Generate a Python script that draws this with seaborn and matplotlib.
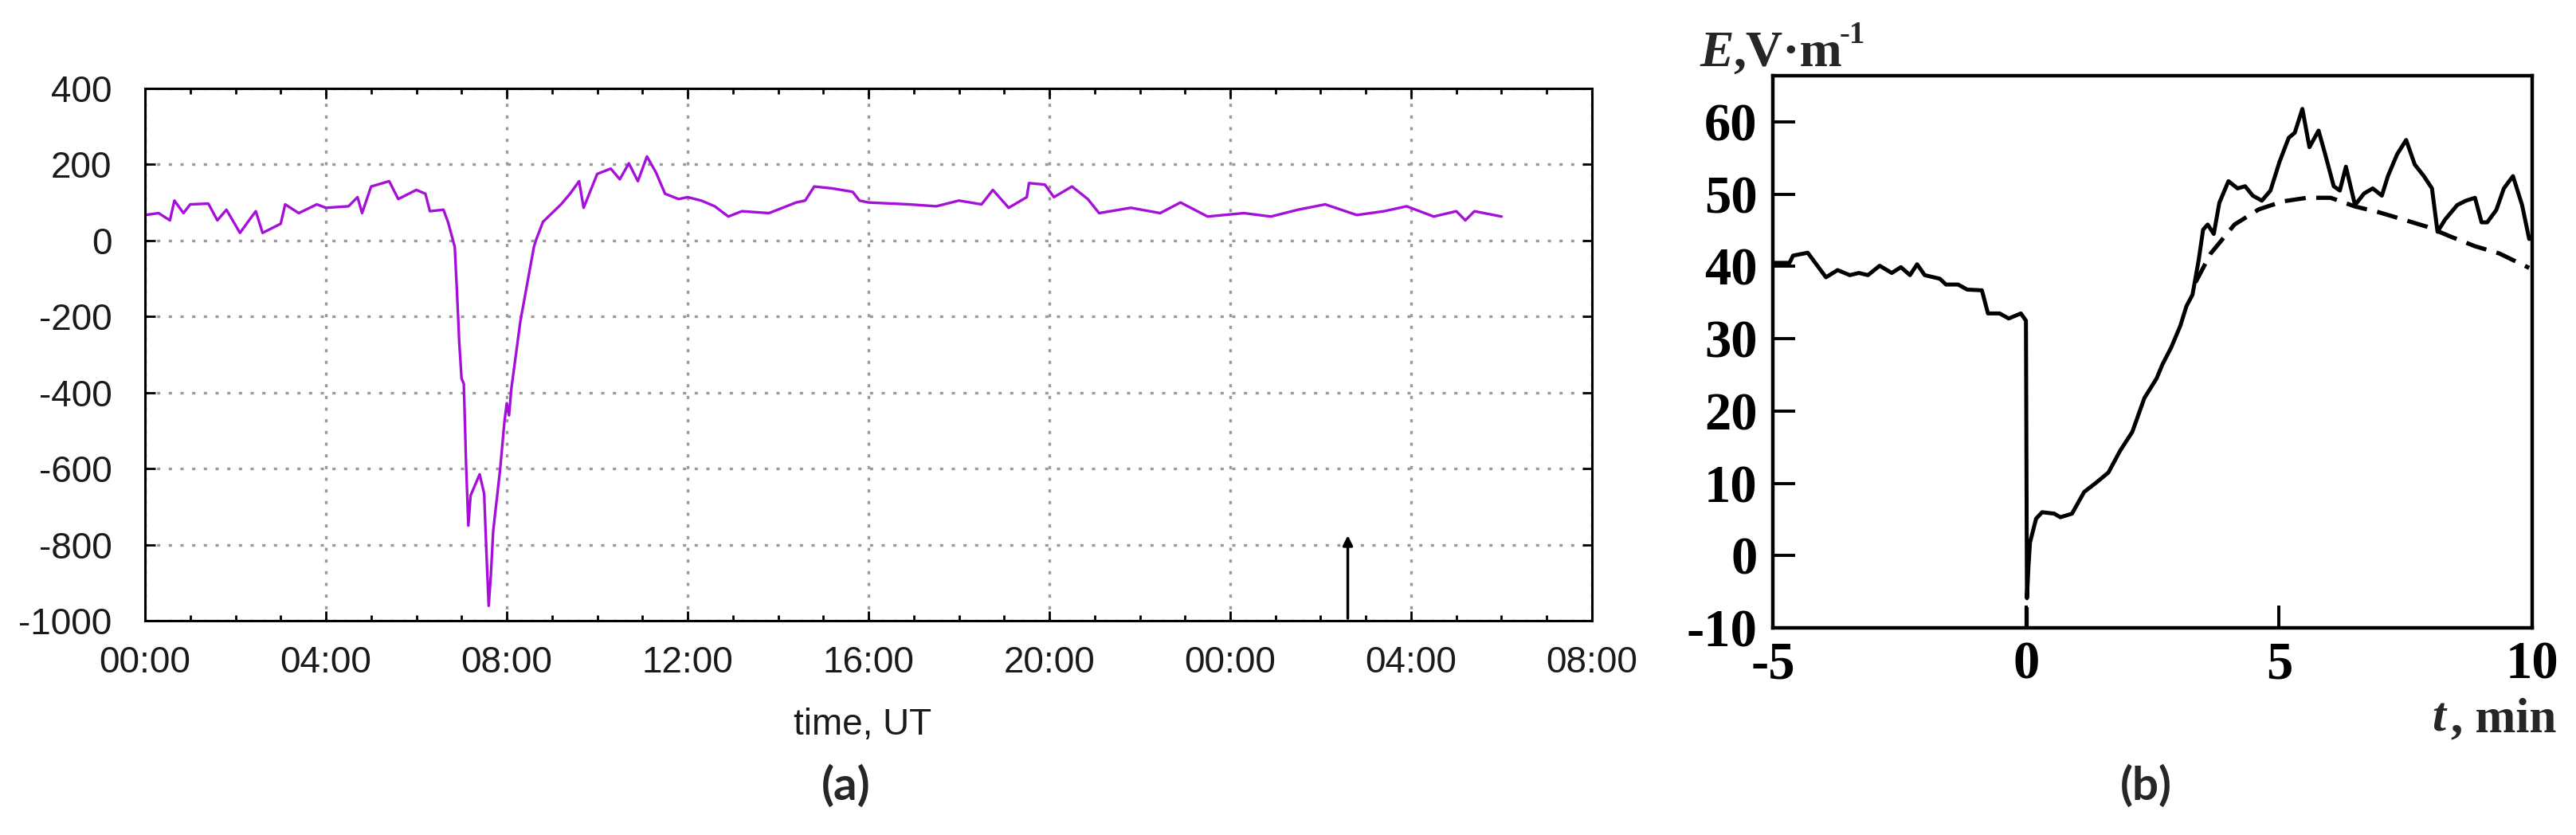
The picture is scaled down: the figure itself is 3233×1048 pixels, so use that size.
import numpy as np
import pandas as pd
import seaborn as sns
import matplotlib.pyplot as plt
from matplotlib.ticker import FixedLocator, MultipleLocator

# panel (a): field over ~30 h, time in hours from 00:00 UT
t_a = [0.0, 0.3, 0.55, 0.65, 0.85, 1.0, 1.4, 1.6, 1.8, 2.1, 2.3, 2.45, 2.6, 3.0, 3.1,
       3.4, 3.8, 4.0, 4.5, 4.7, 4.8, 5.0, 5.4, 5.6, 6.0, 6.2, 6.3, 6.6, 6.7, 6.85,
       6.9, 6.95, 7.0, 7.05, 7.1, 7.15, 7.2, 7.4, 7.5, 7.55, 7.6, 7.65, 7.7, 7.85,
       7.95, 8.0, 8.05, 8.1, 8.3, 8.6, 8.65, 8.8, 9.2, 9.4, 9.6, 9.7, 10.0, 10.3,
       10.5, 10.7, 10.9, 11.1, 11.3, 11.5, 11.8, 12.0, 12.3, 12.6, 12.9, 13.2, 13.8,
       14.4, 14.6, 14.8, 15.2, 15.65, 15.8, 16.0, 16.9, 17.5, 18.0, 18.5, 18.75,
       19.1, 19.5, 19.55, 19.9, 20.1, 20.5, 20.85, 21.1, 21.8, 22.45, 22.9, 23.5,
       24.3, 24.9, 25.5, 26.1, 26.8, 27.4, 27.9, 28.5, 29.0, 29.2, 29.4, 30.0]
e_a = [67, 72, 53, 105, 72, 95, 97, 53, 81, 20, 53, 77, 20, 44, 95,
       72, 95, 86, 90, 114, 72, 142, 156, 109, 133, 123, 77, 81, 49, -17,
       -138, -269, -363, -377, -587, -750, -671, -615, -666, -820, -961, -877, -764, -606,
       -475, -428, -460, -391, -213, -17, 2, 49, 95, 123, 156, 86, 175, 189,
       161, 203, 156, 221, 179, 123, 109, 114, 105, 90, 63, 77, 72,
       100, 105, 142, 137, 128, 105, 100, 95, 90, 105, 95, 133,
       86, 114, 151, 147, 114, 142, 109, 72, 86, 72, 100, 63,
       72, 63, 81, 95, 67, 77, 90, 63, 77, 53, 77, 63]
a_ticks = [0, 4, 8, 12, 16, 20, 24, 28, 32]
a_labels = ["00:00", "04:00", "08:00", "12:00", "16:00", "20:00", "00:00", "04:00", "08:00"]
arrow_t = 26.6
arrow_top = -770

# panel (b): E in V/m, t in min
t_b = [-5.0, -4.67, -4.6, -4.31, -3.95, -3.72, -3.48, -3.3, -3.12, -2.89, -2.65, -2.47,
       -2.29, -2.15, -2.0, -1.7, -1.58, -1.34, -1.16, -0.87, -0.75, -0.52, -0.34, -0.1,
       0.0, 0.02, 0.05, 0.08, 0.2, 0.32, 0.56, 0.68, 0.91, 1.15, 1.39, 1.63, 1.86, 2.1,
       2.34, 2.58, 2.7, 2.87, 3.05, 3.17, 3.29, 3.41, 3.5, 3.59, 3.71, 3.82, 4.0, 4.18,
       4.33, 4.48, 4.66, 4.83, 5.01, 5.19, 5.31, 5.46, 5.6, 5.78, 5.9, 6.08, 6.2, 6.32,
       6.5, 6.68, 6.85, 7.03, 7.15, 7.33, 7.51, 7.68, 7.86, 8.02, 8.13, 8.28, 8.52, 8.69,
       8.87, 9.0, 9.11, 9.29, 9.44, 9.62, 9.8, 9.94]
e_b = [40.5, 40.5, 41.5, 41.9, 38.5, 39.5, 38.8, 39.1, 38.8, 40.1, 39.1, 39.9,
       38.8, 40.3, 38.8, 38.3, 37.5, 37.5, 36.8, 36.7, 33.5, 33.5, 32.8, 33.5,
       32.5, -5.9, -1.5, 1.8, 5.1, 6.0, 5.8, 5.3, 5.8, 8.8, 10.1, 11.5, 14.5, 17.1,
       21.8, 24.5, 26.5, 28.8, 31.8, 34.5, 36.1, 40.8, 45.1, 45.8, 44.5, 48.8, 51.8, 50.8,
       51.1, 49.8, 49.1, 50.5, 54.5, 57.8, 58.5, 61.8, 56.5, 58.8, 55.8, 51.1, 50.5, 53.8,
       48.5, 50.1, 50.8, 49.8, 52.5, 55.5, 57.5, 54.1, 52.5, 50.8, 44.8, 46.5, 48.5, 49.1,
       49.5, 46.1, 46.1, 47.8, 50.8, 52.5, 48.5, 43.8]
t_fit = [3.35, 3.65, 4.12, 4.6, 5.07, 5.55, 6.02, 6.5, 6.97, 7.45, 7.92, 8.4, 8.87, 9.35, 9.94]
e_fit = [37.8, 41.8, 45.8, 47.9, 49.0, 49.5, 49.5, 48.3, 47.5, 46.5, 45.5, 44.1, 42.8, 41.8, 39.8]
t_drop = [0.0, 0.0]
e_drop = [-10, -6]

sns.set_style("ticks")
plt.rcParams['font.family'] = ['Liberation Sans', 'DejaVu Sans']
plt.rcParams['axes.unicode_minus'] = False

fig = plt.figure(figsize=(32.33, 10.48), dpi=100)
ax1 = fig.add_axes([0.0563, 0.2567, 0.5617, 0.6374])
ax2 = fig.add_axes([0.6882, 0.2481, 0.2948, 0.6613])

# ---- (a)
df_a = pd.DataFrame({"t": t_a, "E": e_a})
sns.lineplot(data=df_a, x="t", y="E", ax=ax1, color="#a50fd9", lw=2.4, estimator=None, sort=False)
ax1.annotate("", xy=(arrow_t, arrow_top), xytext=(arrow_t, -1000),
             arrowprops=dict(arrowstyle="-|>", color="black", lw=2.5, mutation_scale=18))
ax1.set_xlim(0, 32)
ax1.set_ylim(-1000, 400)
ax1.xaxis.set_major_locator(FixedLocator(a_ticks))
ax1.set_xticklabels(a_labels)
ax1.xaxis.set_minor_locator(MultipleLocator(1))
ax1.yaxis.set_major_locator(MultipleLocator(200))
ax1.grid(True, which="major", color="#9a9a9a", lw=2.4, ls=(0, (1.2, 3.2)))
ax1.tick_params(which="both", direction="in", top=True, right=True, colors="black",
                labelcolor="#1a1a1a", labelsize=33, width=2)
ax1.tick_params(axis="y", which="major", length=9, pad=30)
ax1.tick_params(axis="x", which="major", length=9, pad=22)
ax1.tick_params(which="minor", length=5)
for s in ax1.spines.values():
    s.set_linewidth(2.2)
    s.set_color("black")
ax1.set_xlabel("")
ax1.set_ylabel("")
fig.text(0.3347, 0.1317, "time, UT", ha="center", va="center", fontsize=33, color="#1a1a1a")
fig.text(0.3285, 0.0582, "(a)", ha="center", va="center", fontsize=42,
         fontweight="bold", family=["Lato", "DejaVu Sans"])

# ---- (b)
serif = ["Liberation Serif", "DejaVu Serif"]
df_b = pd.DataFrame({"t": t_b, "E": e_b})
df_fit = pd.DataFrame({"t": t_fit, "E": e_fit})
sns.lineplot(data=df_b, x="t", y="E", ax=ax2, color="black", lw=3.6, estimator=None, sort=False)
sns.lineplot(data=df_fit, x="t", y="E", ax=ax2, color="black", lw=3.8, ls=(0, (5, 2.5)),
             estimator=None, sort=False)
ax2.plot(t_drop, e_drop, color="black", lw=3.8, ls=(0, (5, 2.5)))
ax2.set_xlim(-5, 10)
ax2.set_ylim(-10, 66.4)
ax2.set_xticks([-5, 0, 5, 10])
ax2.set_yticks(range(-10, 61, 10))
ax2.tick_params(direction="in", length=20, width=2.8, labelsize=48, colors="black")
ax2.tick_params(axis="y", pad=14)
ax2.tick_params(axis="x", pad=12)
for lab in ax2.get_xticklabels() + ax2.get_yticklabels():
    lab.set_family(serif)
    lab.set_fontweight("bold")
for s in ax2.spines.values():
    s.set_linewidth(3.2)
    s.set_color("black")
ax2.set_xlabel("")
ax2.set_ylabel("")

fig.text(0.6598, 0.935, "E", ha="left", va="center", fontsize=46, fontweight="bold",
         fontstyle="italic", family=serif)
fig.text(0.6728, 0.935, ",V\u00b7m", ha="left", va="center", fontsize=46, fontweight="bold",
         family=serif)
fig.text(0.7140, 0.958, "-1", ha="left", va="center", fontsize=28, fontweight="bold",
         family=serif)
fig.text(0.9440, 0.1384, "t", ha="left", va="center", fontsize=44, fontweight="bold",
         fontstyle="italic", family=serif)
fig.text(0.9515, 0.1384, ", min", ha="left", va="center", fontsize=44, fontweight="bold",
         family=serif)
fig.text(0.833, 0.0582, "(b)", ha="center", va="center", fontsize=42,
         fontweight="bold", family=["Lato", "DejaVu Sans"])

fig.savefig("out.png", dpi=100, facecolor="white")
